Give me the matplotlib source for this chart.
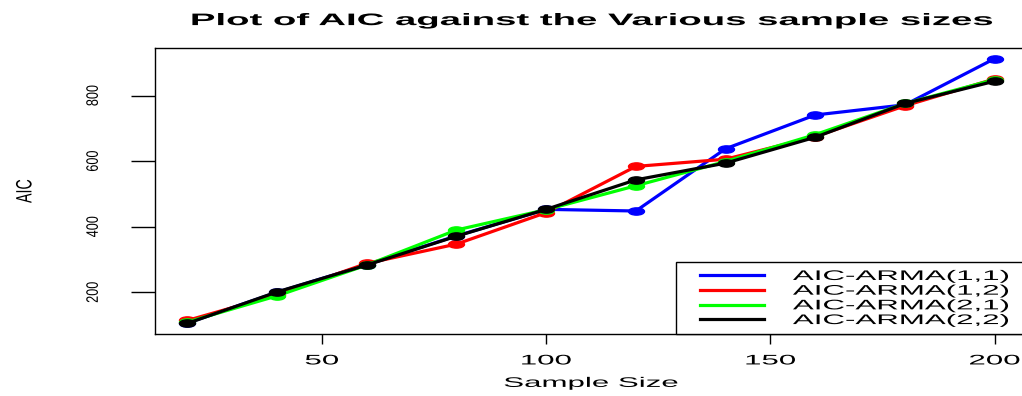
import matplotlib
matplotlib.use("Agg")
import matplotlib.pyplot as plt
from matplotlib.patheffects import AbstractPathEffect
from matplotlib.transforms import Affine2D
from matplotlib.path import Path
from matplotlib.legend_handler import HandlerLine2D

plt.rcParams['font.family'] = ['Liberation Sans', 'DejaVu Sans']

# data
sample_size = [20, 40, 60, 80, 100, 120, 140, 160, 180, 200]
aic_11 = [106, 200, 284, 372, 453, 448, 638, 741, 772, 913]
aic_12 = [114, 192, 288, 347, 443, 584, 606, 675, 769, 851]
aic_21 = [109, 189, 283, 390, 452, 525, 599, 681, 776, 849]
aic_22 = [105, 201, 283, 371, 453, 543, 594, 673, 776, 844]
labels = ['AIC-ARMA(1,1)', 'AIC-ARMA(1,2)', 'AIC-ARMA(2,1)', 'AIC-ARMA(2,2)']
colors = ['#0000ff', '#ff0000', '#00ff00', '#000000']
xticks = [50, 100, 150, 200]
yticks = [200, 400, 600, 800]


class Stretch(AbstractPathEffect):
    # widen glyphs along the text direction, like the R device output
    def __init__(self, sx, anchor='center'):
        super().__init__()
        self.sx = sx
        self.anchor = anchor

    def draw_path(self, renderer, gc, tpath, affine, rgbFace=None):
        ext = tpath.get_extents()
        x0 = ext.x0 if self.anchor == 'left' else (ext.x0 + ext.x1) / 2
        st = Affine2D().translate(-x0, 0).scale(self.sx, 1).translate(x0, 0)
        renderer.draw_path(gc, tpath, st + affine, rgbFace)


# flattened dot marker
dot = Path.unit_circle().transformed(Affine2D().scale(2.2, 1))

fig = plt.figure(figsize=(10.22, 3.96), dpi=100)
ax = fig.add_axes([155 / 1022, 62 / 396, 872 / 1022, 286 / 396])

series = [aic_11, aic_12, aic_21, aic_22]
for ys, c, lab in zip(series, colors, labels):
    ax.plot(sample_size, ys, color=c, lw=2.3, marker=dot, ms=11.5,
            label=lab, solid_joinstyle='round')

# R style 4% axis padding
allv = [v for s in series for v in s]
lo, hi = min(allv), max(allv)
ax.set_ylim(lo - 0.04 * (hi - lo), hi + 0.04 * (hi - lo))
xlo, xhi = min(sample_size), max(sample_size)
ax.set_xlim(xlo - 0.04 * (xhi - xlo), xhi + 0.04 * (xhi - xlo))

ax.set_xticks(xticks)
ax.set_yticks(yticks)
ax.tick_params(axis='x', length=7, width=1, pad=7, labelsize=10)
ax.tick_params(axis='y', length=17, width=1, pad=22, labelsize=12)
for t in ax.get_yticklabels():
    t.set_rotation(90)
    t.set_va('center')
    t.set_path_effects([Stretch(0.76)])
for t in ax.get_xticklabels():
    t.set_path_effects([Stretch(2.25)])
for sp in ax.spines.values():
    sp.set_linewidth(1.0)

ax.set_xlabel('Sample Size', fontsize=10, va='center')
ax.xaxis.set_label_coords(0.5, -0.171)
ax.xaxis.label.set_path_effects([Stretch(2.25)])
ax.set_ylabel('AIC', fontsize=16, va='center')
ax.yaxis.set_label_coords(-0.148, 0.5)
ax.yaxis.label.set_path_effects([Stretch(0.64)])

title = ax.set_title('Plot of AIC against the Various sample sizes',
                     fontsize=12, fontweight='bold', pad=16.5)
title.set_path_effects([Stretch(2.3)])

fs = 10 * 100 / 72
leg = ax.legend(loc='lower left', bbox_to_anchor=(0.5975, 0, 0.4025, 0.3),
                mode='expand', borderaxespad=0, fancybox=False,
                edgecolor='black', framealpha=1, fontsize=10,
                handlelength=81 / fs, handletextpad=29 / fs,
                labelspacing=0.05, borderpad=0.5,
                handler_map={plt.Line2D: HandlerLine2D(xpad=17 / fs, marker_pad=0)})
leg.get_frame().set_linewidth(1.0)
for h in leg.get_lines():
    h.set_marker('')
    h.set_linewidth(2.3)
for t in leg.get_texts():
    t.set_path_effects([Stretch(2.25, anchor='left')])

fig.savefig('out.png', dpi=100)
